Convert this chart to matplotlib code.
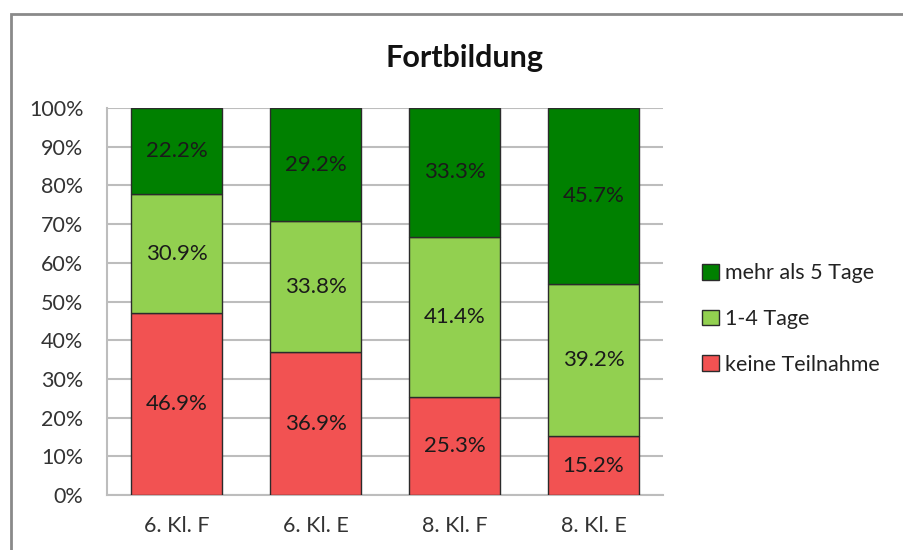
import numpy as np
import matplotlib
matplotlib.use("Agg")
import matplotlib.pyplot as plt
from matplotlib.patches import Rectangle, Patch

plt.rcParams['font.family'] = ['Lato', 'DejaVu Sans']

categories = ['6. Kl. F', '6. Kl. E', '8. Kl. F', '8. Kl. E']
keine = [46.9, 36.9, 25.3, 15.2]
tage_1_4 = [30.9, 33.8, 41.4, 39.2]
mehr_5 = [22.2, 29.2, 33.3, 45.7]
series_names = ['keine Teilnahme', '1-4 Tage', 'mehr als 5 Tage']
colors = ['#F25252', '#92D050', '#008000']

W, H = 904, 550
fig = plt.figure(figsize=(W / 100, H / 100), dpi=100)

# chart border (cut off at right and bottom like the screenshot)
fig.patches.append(Rectangle((11 / W, -0.1), 1.2, 1 - 14 / H + 0.1,
                             transform=fig.transFigure, fill=False,
                             edgecolor='#8a8a8a', linewidth=2))

ax = fig.add_axes([107 / W, 55 / H, (663 - 107) / W, (495 - 108) / H])

x = np.arange(len(categories))
bottom = np.zeros(len(categories))
for vals, col in zip([keine, tage_1_4, mehr_5], colors):
    vals = np.array(vals)
    ax.bar(x, vals, width=0.65, bottom=bottom, color=col,
           edgecolor='#2b2b2b', linewidth=1, zorder=3)
    for xi, b, v in zip(x, bottom, vals):
        ax.text(xi, b + v / 2, f'{v:.1f}%', ha='center', va='center',
                fontsize=16, color='#1a1a1a', zorder=4)
    bottom += vals

ax.set_xlim(-0.5, len(categories) - 0.5)
ax.set_ylim(0, 100)
ax.set_yticks(np.arange(0, 101, 10))
ax.set_yticklabels([f'{t}%' for t in range(0, 101, 10)])
ax.set_xticks(x)
ax.set_xticklabels(categories)
ax.tick_params(length=0, labelsize=15.5, colors='#333333')
ax.tick_params(axis='x', pad=15)
ax.tick_params(axis='y', pad=17)
ax.grid(axis='y', color='#bdbdbd', linewidth=1.5, zorder=0)
for s in ['top', 'right']:
    ax.spines[s].set_visible(False)
for s in ['left', 'bottom']:
    ax.spines[s].set_color('#bdbdbd')
    ax.spines[s].set_linewidth(1.5)

fig.text((380 + 549) / 2 / W, 1 - 58 / H, 'Fortbildung', ha='center',
         va='center', fontsize=22, fontweight='bold', color='#111111')

handles = [Patch(facecolor=c, edgecolor='#2b2b2b', linewidth=1)
           for c in colors[::-1]]
fig.legend(handles, series_names[::-1], loc='center left',
           bbox_to_anchor=(683 / W, 1 - 319 / H), frameon=False,
           fontsize=15.5, labelcolor='#222222', handlelength=0.75,
           handleheight=0.75, handletextpad=0.3, labelspacing=1.2)

fig.savefig('out.png', dpi=100)
